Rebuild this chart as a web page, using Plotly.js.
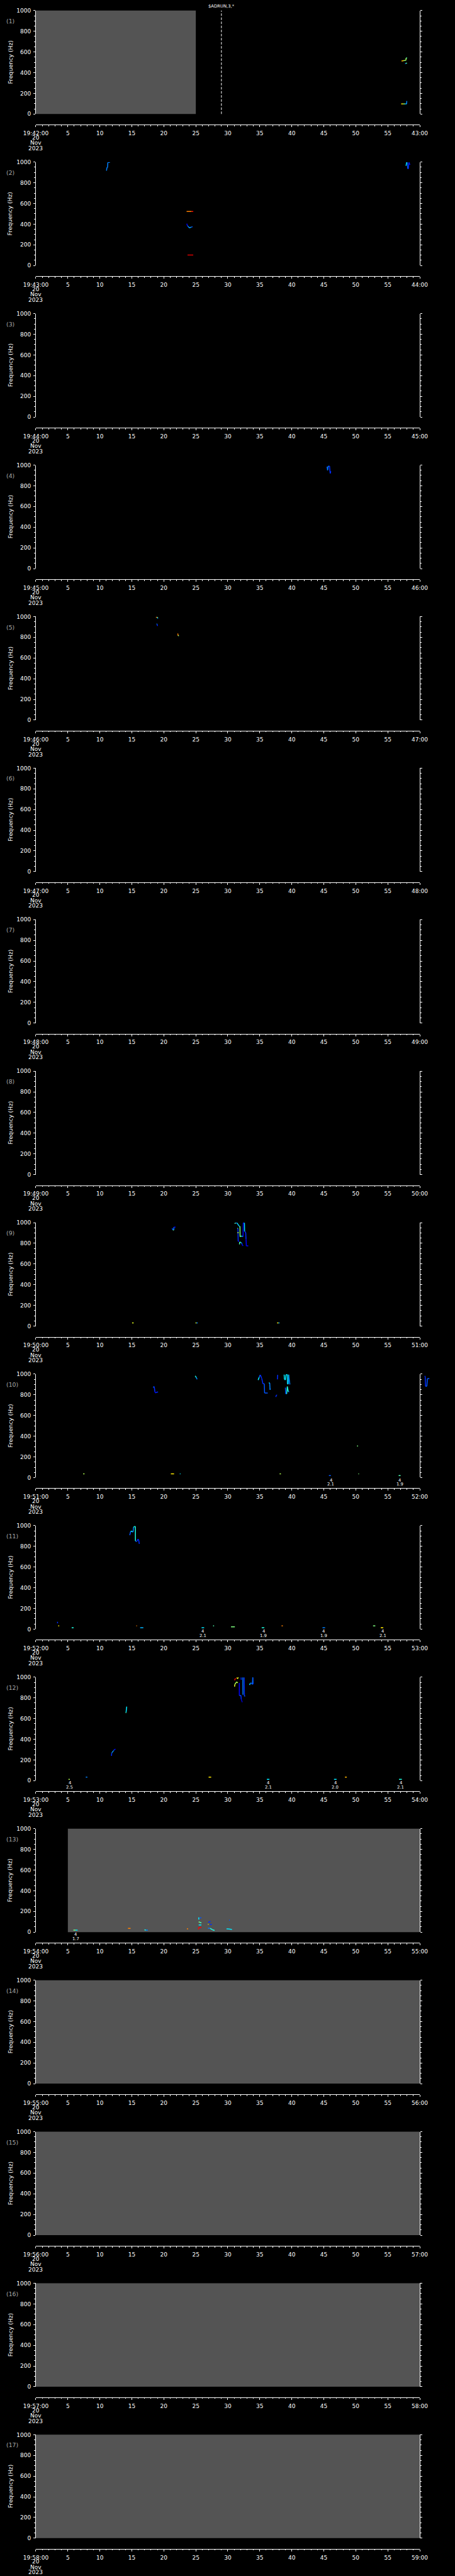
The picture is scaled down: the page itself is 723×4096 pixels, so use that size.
<!DOCTYPE html>
<html><head><meta charset="utf-8">
<script src="https://cdn.plot.ly/plotly-3.0.1.min.js"></script>
<style>html,body{margin:0;padding:0;background:#000;}</style>
</head><body><div id="chart" style="width:723px;height:4096px;"></div>
<script>
// ---------------- DATA ----------------
// panel start minute (after 19:00), one panel per minute
const panelMinutes = [42,43,44,45,46,47,48,49,50,51,52,53,54,55,56,57,58];
const majorTicks = [0,5,10,15,20,25,30,35,40,45,50,55,60];
const freqTicks = [0,200,400,600,800,1000];
// spectrogram tracks per panel: seconds, frequency (Hz), relative intensity (0-1); null separates tracks
const p1_t = [57.15,57.45,57.7,57.84,57.86,58.03,null,57.73,57.8,58.0,null,57.1,57.4,57.7,57.95,57.97,58.03];
const p1_f = [513,515,518,518,541,541,null,484,491,491,null,97,97,97,97,124,124];
const p1_v = [0.8,0.7,0.45,0.6,0.6,0.4,null,0.1,0.45,0.5,null,0.75,0.65,0.4,0.3,0.3,0.35];
const p2_t = [11.0,11.05,11.1,11.2,11.25,11.57,null,23.56,23.8,24.1,24.35,24.6,null,23.6,23.65,23.75,23.98,24.26,24.49,null,23.7,24.6,null,57.85,57.95,58.05,58.12,58.22,58.3,58.47];
const p2_f = [918,918,947,947,997,997,null,522,522,522,522,522,null,405,390,381,365,370,376,null,101,101,null,964,997,997,936,936,997,973];
const p2_v = [0.3,0.3,0.3,0.3,0.3,0.3,null,0.7,0.9,0.72,0.85,0.9,null,0.15,0.15,0.2,0.4,0.3,0.2,null,0.95,0.95,null,0.4,0.4,0.3,0.2,0.2,0.15,0.15];
const p3_t = [], p3_f = [], p3_v = [];
const p4_t = [45.5,45.6,45.7,45.9,46.0,46.1];
const p4_f = [985,950,990,990,920,940];
const p4_v = [0.2,0.3,0.3,0.2,0.15,0.2];
const p5_t = [18.77,18.9,19.0,19.05,19.1,null,18.86,18.95,19.0,19.05,null,22.13,22.2,22.22,22.36];
const p5_f = [994,994,994,982,982,null,928,928,911,911,null,834,834,815,815];
const p5_v = [0.65,0.9,0.7,0.15,0.15,null,0.45,0.2,0.15,0.15,null,0.8,0.8,0.8,0.3];
const p6_t = [], p6_f = [], p6_v = [];
const p7_t = [], p7_f = [], p7_v = [];
const p8_t = [], p8_f = [], p8_v = [];
const p9_t = [21.3,21.39,21.45,21.57,21.57,21.83,null,
  31.08,31.2,31.45,31.55,31.7,31.85,31.9,31.92,32.1,32.3,32.36,null,
  32.38,32.42,32.6,32.62,32.7,32.8,32.85,32.9,33.2,null,
  31.5,31.58,31.62,31.75,null,31.5,31.7,null,
  31.82,31.85,31.95,32.1,32.2,32.25,32.4,null,
  15.04,15.28,null,24.95,25.1,25.3,null,37.7,37.9,38.08];
const p9_f = [947,932,929,929,957,957,null,
  990,997,997,986,972,964,964,864,870,868,864,null,
  864,997,997,917,912,903,840,775,775,null,
  946,946,820,820,null,903,903,null,
  790,812,812,805,800,785,775,null,
  31,31,null,31,31,31,null,31,31,31];
const p9_v = [0.15,0.2,0.6,0.45,0.15,0.15,null,
  0.8,0.15,0.45,0.35,0.4,0.3,0.55,0.55,0.45,0.3,0.2,null,
  0.15,0.15,0.4,0.4,0.2,0.2,0.15,0.15,0.15,null,
  0.8,0.2,0.15,0.15,null,0.8,0.35,null,
  0.4,0.55,0.45,0.35,0.2,0.15,0.15,null,
  0.9,0.4,null,0.9,0.4,0.15,null,0.9,0.45,0.2];
const p10_t = [18.35,18.4,18.5,18.6,18.7,18.9,19.1,null,
  24.9,25.0,25.1,25.2,null,
  34.74,34.9,35.07,35.3,35.49,35.7,35.75,36.24,null,
  36.4,36.55,36.6,36.66,null,37.75,37.8,null,37.5,37.6,37.7,null,
  38.8,38.85,39.0,39.1,39.3,39.32,39.45,39.5,39.7,null,
  39.0,39.05,39.2,39.3,39.45,39.6,null,
  60.79,60.85,60.9,61.1,61.2,61.5,null,
  7.4,7.6,null,21.1,21.6,null,22.5,22.6,null,38.1,38.3,null,50.4,50.5,null,50.2,50.35,null,45.8,46.1,null,56.7,57.0];
const p10_f = [870,879,879,830,818,826,826,null,
  983,975,965,950,null,
  943,970,993,960,907,907,818,818,null,
  915,915,850,860,null,950,993,null,779,798,798,null,
  995,950,945,995,995,905,905,995,900,null,
  870,810,810,880,830,830,null,
  983,975,883,883,957,957,null,
  37,37,null,37,37,null,37,37,null,37,37,null,37,37,null,305,305,null,20,20,null,20,20];
const p10_v = [0.2,0.3,0.2,0.15,0.15,0.2,0.2,null,
  0.4,0.45,0.35,0.2,null,
  0.45,0.3,0.2,0.2,0.15,0.2,0.25,0.25,null,
  0.4,0.35,0.3,0.25,null,0.2,0.2,null,0.2,0.2,0.2,null,
  0.35,0.4,0.35,0.4,0.4,0.4,0.35,0.35,0.2,null,
  0.25,0.2,0.3,0.55,0.3,0.2,null,
  0.2,0.2,0.2,0.25,0.25,0.2,null,
  0.9,0.25,null,0.7,0.7,null,0.4,0.35,null,0.8,0.4,null,0.9,0.15,null,0.9,0.15,null,0.2,0.3,null,0.45,0.55];
const p11_t = [14.67,14.83,15.05,15.09,15.2,15.25,15.4,15.55,15.56,15.7,15.84,15.9,16.05,16.17,null,
  3.38,3.4,null,3.5,3.65,null,5.6,5.9,null,15.7,15.8,null,16.3,16.8,null,25.9,26.3,null,27.7,27.85,null,
  30.5,31.1,null,35.3,35.7,null,38.4,38.6,null,44.8,45.2,null,52.7,53.05,null,53.9,54.3];
const p11_f = [908,946,946,939,939,982,992,992,853,846,853,867,867,824,null,
  71,56,null,32,32,null,13,13,null,32,32,null,13,13,null,13,13,null,32,32,null,
  22,22,null,13,13,null,32,32,null,13,13,null,32,32,null,13,13];
const p11_v = [0.15,0.35,0.4,0.35,0.3,0.35,0.45,0.45,0.4,0.2,0.15,0.2,0.2,0.15,null,
  0.2,0.15,null,0.9,0.5,null,0.15,0.7,null,0.8,0.8,null,0.45,0.2,null,0.4,0.4,null,0.8,0.15,null,
  0.9,0.15,null,0.5,0.4,null,0.8,0.8,null,0.4,0.2,null,0.15,0.9,null,0.7,0.7];
const p12_t = [14.05,14.1,14.2,null,11.82,11.85,11.95,12.1,12.2,12.3,12.45,null,
  31.05,31.2,null,31.4,31.5,31.65,null,31.05,31.1,31.25,31.4,31.55,null,
  31.8,31.8,32.05,32.1,32.2,32.25,null,32.08,32.1,null,32.35,32.37,null,32.56,32.6,32.7,null,
  33.4,33.5,33.65,33.85,33.9,33.95,34.03,null,
  5.1,5.3,null,7.8,8.05,null,27.0,27.4,null,36.1,36.5,null,46.6,47.0,null,48.3,48.6,null,56.75,57.2];
const p12_f = [654,660,715,null,240,265,275,285,295,300,305,null,
  970,990,null,997,985,997,null,908,930,944,955,944,null,
  944,823,823,787,770,758,null,997,975,null,997,830,null,997,815,820,null,
  925,940,945,930,997,935,935,null,
  12,12,null,33,33,null,33,33,null,12,12,null,12,12,null,33,33,null,12,12];
const p12_v = [0.55,0.4,0.4,null,0.15,0.2,0.4,0.3,0.2,0.15,0.15,null,
  0.9,0.9,null,0.75,0.7,0.6,null,0.7,0.6,0.55,0.6,0.55,null,
  0.1,0.2,0.25,0.1,0.1,0.1,null,0.2,0.2,null,0.3,0.3,null,0.2,0.2,0.25,null,
  0.4,0.35,0.3,0.2,0.35,0.15,0.15,null,
  0.55,0.6,null,0.35,0.25,null,0.9,0.5,null,0.65,0.15,null,0.42,0.4,null,0.9,0.55,null,0.65,0.2];
const p13_t = [5.86,6.2,6.52,null,14.4,14.8,null,16.97,17.2,17.5,null,23.6,23.8,null,
  25.45,25.47,null,25.6,25.87,null,25.45,25.6,25.87,null,25.45,25.87,null,25.42,25.45,25.87,null,
  26.94,27.3,null,26.9,27.0,null,27.2,27.5,null,26.9,27.24,27.6,27.93,null,30.2,30.3,null,29.8,30.2,30.65];
const p13_f = [19,19,19,null,36,36,null,22,19,19,null,31,31,null,
  143,121,null,138,138,null,100,95,90,null,70,70,null,26,45,45,null,
  94,104,null,76,76,null,74,74,null,37,37,23,17,null,116,116,null,32,30,26];
const p13_v = [0.45,0.65,0.15,null,0.9,0.7,null,0.5,0.4,0.15,null,0.8,0.8,null,
  0.4,0.4,null,0.15,0.3,null,0.55,0.5,0.45,null,0.4,0.4,null,0.9,0.9,0.9,null,
  0.15,0.2,null,0.7,0.7,null,0.15,0.2,null,0.4,0.2,0.7,0.2,null,0.3,0.15,null,0.15,0.6,0.2];
const p14_t = [], p14_f = [], p14_v = [];
const p15_t = [], p15_f = [], p15_v = [];
const p16_t = [], p16_f = [], p16_v = [];
const p17_t = [], p17_f = [], p17_v = [];
// grey (no data) spans: panel, start s, end s
const gapPanel = [1,13,14,15,16,17];
const gapStart = [0,5,0,0,0,0];
const gapEnd   = [25,60,60,60,60,60];
// event markers
const evtPanel = [1];
const evtTime = [29];
const evtText = ['$ADRUN,3,*'];
// small numeric labels under marks
const lblPanel = [10,10,11,11,11,11,12,12,12,12,13];
const lblTime  = [46.1,56.9,26.1,35.6,45.0,54.2,5.3,36.3,46.8,57.0,6.2];
const lblTop   = ['4','4','4','4','4','4','4','4','4','4','4'];
const lblBot   = ['2.1','1.9','2.1','1.9','1.9','2.1','2.5','2.1','2.0','2.1','1.7'];

// ---------------- LAYOUT GEOMETRY (reference px) ----------------
const W_REF = 1024, H_REF = 5802;
const TOP0 = 23.8, STEP = 341.25, PH = 233, AXGAP = 24;
const XL = 80.7, XR = 944.7, XEXT = 1000;
const fx = v => v / W_REF;
const fy = v => 1 - v / H_REF;
const FONT = 'DejaVu Sans';
const stops = [[0,[0,0,160]],[0.15,[0,0,255]],[0.3,[0,128,255]],[0.42,[0,255,255]],[0.55,[128,255,128]],[0.68,[255,255,0]],[0.8,[255,128,0]],[0.9,[255,0,0]],[1,[176,0,0]]];
function cmap(v){
  for(let i=1;i<stops.length;i++){
    if(v<=stops[i][0]){
      const a=stops[i-1], b=stops[i]; const r=(v-a[0])/(b[0]-a[0]);
      const c=a[1].map((x,j)=>Math.round(x+(b[1][j]-x)*r));
      return 'rgb('+c.join(',')+')';
    }
  }
  return 'rgb(176,0,0)';
}
const tracks = [[p1_t,p1_f,p1_v],[p2_t,p2_f,p2_v],[p3_t,p3_f,p3_v],[p4_t,p4_f,p4_v],[p5_t,p5_f,p5_v],[p6_t,p6_f,p6_v],[p7_t,p7_f,p7_v],[p8_t,p8_f,p8_v],[p9_t,p9_f,p9_v],[p10_t,p10_f,p10_v],[p11_t,p11_f,p11_v],[p12_t,p12_f,p12_v],[p13_t,p13_f,p13_v],[p14_t,p14_f,p14_v],[p15_t,p15_f,p15_v],[p16_t,p16_f,p16_v],[p17_t,p17_f,p17_v]];

const data = [], shapes = [], annotations = [];
const layout = {width:723, height:4096, margin:{l:0,r:0,t:0,b:0}, paper_bgcolor:'#000', plot_bgcolor:'rgba(0,0,0,0)', showlegend:false, font:{family:FONT,color:'#fff'}};
const nP = panelMinutes.length;
layout['xaxis'+(nP+1)] = {domain:[fx(XL),fx(XEXT)], range:[0,(XEXT-XL)/((XR-XL)/60)], visible:false, anchor:'free', position:0, fixedrange:true};
const tickFont = {family:FONT, size:9, color:'#fff'};
for(let k=1;k<=nP;k++){
  const sfx = k===1?'':String(k);
  const top = TOP0+(k-1)*STEP, bot = top+PH, axy = bot+AXGAP;
  const m = panelMinutes[k-1];
  const ticktext = majorTicks.map((v,i)=> i===0 ? '19:'+m+':00' : (i===majorTicks.length-1 ? (m+1)+':00' : String(v)));
  layout['xaxis'+sfx] = {domain:[fx(XL),fx(XR)], range:[0,60], anchor:'free', position:fy(axy), showline:true, linecolor:'#fff', linewidth:1,
    ticks:'outside', ticklen:3, tickwidth:1, tickcolor:'#fff', tickmode:'array', tickvals:majorTicks, ticktext:ticktext, tickfont:tickFont,
    ticklabelstandoff:2, showgrid:false, zeroline:false, fixedrange:true,
    minor:{tickmode:'linear', tick0:0, dtick:1, ticks:'outside', ticklen:1.6, tickwidth:1, tickcolor:'#fff', showgrid:false}};
  layout['yaxis'+sfx] = {domain:[fy(bot),fy(top)], range:[0,1000], anchor:'x'+sfx, showline:true, mirror:'ticks', linecolor:'#fff', linewidth:1,
    ticks:'outside', ticklen:3, tickwidth:1, tickcolor:'#fff', tickmode:'array', tickvals:freqTicks, tickfont:tickFont, ticklabelstandoff:2,
    showgrid:false, zeroline:false, fixedrange:true,
    minor:{tickmode:'linear', tick0:0, dtick:50, ticks:'outside', ticklen:1.5, tickwidth:1, tickcolor:'#fff', showgrid:false}};
  data.push({type:'scatter', x:[], y:[], xaxis:'x'+sfx, yaxis:'y'+sfx, hoverinfo:'skip'});
  // tracks -> segments bucketed by colour
  const [T,F,V] = tracks[k-1];
  const buckets = {};
  for(let i=0;i<T.length-1;i++){
    if(T[i]===null||T[i+1]===null) continue;
    const val = Math.round(((V[i]+V[i+1])/2)*20)/20;
    if(!buckets[val]) buckets[val]={x:[],y:[]};
    buckets[val].x.push(T[i],T[i+1],null); buckets[val].y.push(F[i],F[i+1],null);
  }
  Object.keys(buckets).forEach(key=>{
    data.push({type:'scatter', mode:'lines', x:buckets[key].x, y:buckets[key].y, xaxis:'x'+(nP+1), yaxis:'y'+sfx,
      line:{color:cmap(+key), width:1.5}, hoverinfo:'skip', cliponaxis:false});
  });
  // panel texts
  annotations.push({xref:'paper', yref:'paper', x:fx(12), y:fy(top+23.5), xanchor:'left', yanchor:'middle', text:'('+k+')', showarrow:false, font:{family:FONT,size:9.3,color:'#aaaaaa'}});
  annotations.push({xref:'paper', yref:'paper', x:fx(23.3), y:fy(top+PH/2), xanchor:'center', yanchor:'middle', textangle:-90, text:'Frequency (Hz)', showarrow:false, font:{family:FONT,size:9.2,color:'#fff'}});
  ['20','Nov','2023'].forEach((s,j)=>{
    annotations.push({xref:'paper', yref:'paper', x:fx(XL), y:fy(axy+29.3+12*j), xanchor:'center', yanchor:'middle', text:s, showarrow:false, font:{family:FONT,size:9,color:'#fff'}});
  });
}
gapPanel.forEach((p,i)=>{
  const sfx = p===1?'':String(p);
  shapes.push({type:'rect', xref:'x'+sfx, yref:'y'+sfx+' domain', x0:gapStart[i], x1:gapEnd[i], y0:0, y1:1, fillcolor:'#545454', line:{width:0}, layer:'below'});
});
evtPanel.forEach((p,i)=>{
  const sfx = p===1?'':String(p);
  const top = TOP0+(p-1)*STEP;
  shapes.push({type:'line', xref:'x'+sfx, yref:'y'+sfx+' domain', x0:evtTime[i], x1:evtTime[i], y0:0, y1:1, line:{color:'#fff', width:1, dash:'4px,2.5px'}});
  annotations.push({xref:'x'+sfx, yref:'paper', x:evtTime[i], y:fy(top-9), xanchor:'center', yanchor:'middle', text:evtText[i], showarrow:false, font:{family:FONT,size:6.8,color:'#fff'}});
});
lblPanel.forEach((p,i)=>{
  const sfx = p===1?'':String(p);
  const bot = TOP0+(p-1)*STEP+PH;
  annotations.push({xref:'x'+sfx, yref:'paper', x:lblTime[i], y:fy(bot+5.7), xanchor:'center', yanchor:'middle', text:lblTop[i], showarrow:false, font:{family:FONT,size:6.8,color:'#fff'}});
  annotations.push({xref:'x'+sfx, yref:'paper', x:lblTime[i], y:fy(bot+15), xanchor:'center', yanchor:'middle', text:lblBot[i], showarrow:false, font:{family:FONT,size:6.8,color:'#fff'}});
});
layout.shapes = shapes;
layout.annotations = annotations;
Plotly.newPlot('chart', data, layout, {staticPlot:true, displayModeBar:false});
</script></body></html>
